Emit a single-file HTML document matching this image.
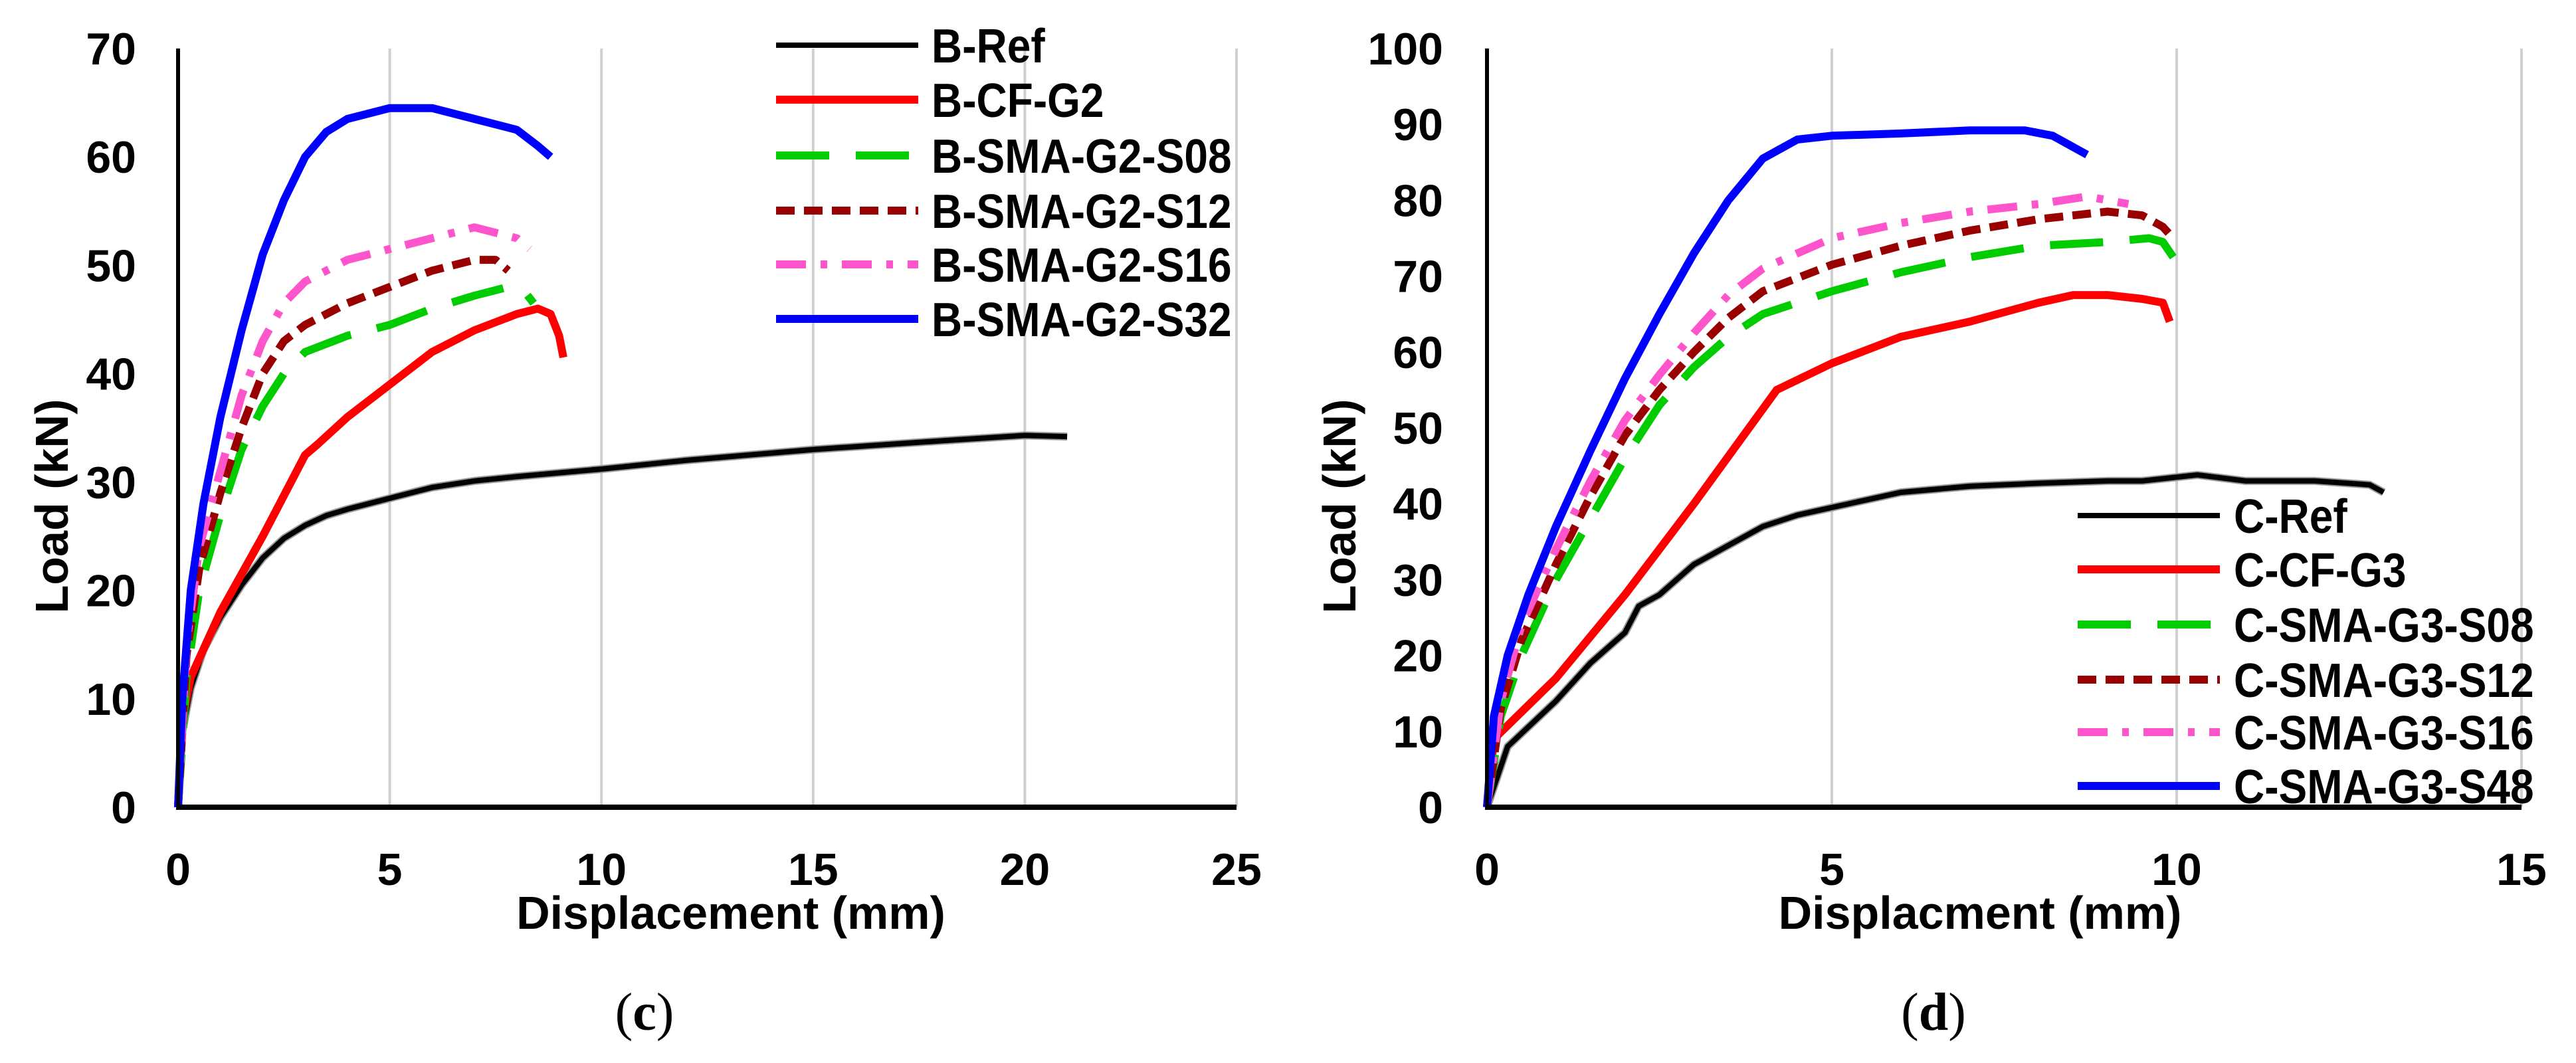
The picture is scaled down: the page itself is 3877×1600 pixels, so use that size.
<!DOCTYPE html>
<html><head><meta charset="utf-8"><style>
html,body{margin:0;padding:0;background:#fff;}
svg{display:block;font-family:"Liberation Sans",sans-serif;}
</style></head><body>
<svg id="chart" width="3877" height="1600" viewBox="0 0 3877 1600" xmlns="http://www.w3.org/2000/svg"></svg>
<script>
// ---- Data (panel c) ----
const cSeriesNames = ["B-Ref","B-CF-G2","B-SMA-G2-S08","B-SMA-G2-S12","B-SMA-G2-S16","B-SMA-G2-S32"];
const cRefX = [0,0.1,0.3,0.6,1,1.5,2,2.5,3,3.5,4,5,6,7,8,10,12,15,18,20,21];
const cRefY = [0,7,11,14.5,17.5,20.5,23,24.8,26,26.9,27.5,28.5,29.5,30.1,30.5,31.2,32,33,33.8,34.3,34.2];
const cCfX = [0,0.1,0.3,1,2,3,3.3,4,5,6,7,8,8.5,8.8,9,9.1];
const cCfY = [0,8,12,18,25,32.5,33.5,36,39,42,44,45.5,46,45.5,43.5,41.5];
const cS08X = [0,0.2,0.5,1,1.5,2,2.5,3,4,5,6,7,7.8,8.2,8.4];
const cS08Y = [0,12,20,27,33,37,40,42,43.5,44.5,46,47.2,48,47.5,46.5];
const cS12X = [0,0.2,0.5,1,1.5,2,2.5,3,4,5,6,7,7.5,7.8];
const cS12Y = [0,14,22,29,35,40,43,44.5,46.5,48,49.5,50.5,50.5,49.5];
const cS16X = [0,0.2,0.5,1,1.5,2,2.5,3,4,5,6,7,7.5,8,8.3];
const cS16Y = [0,15,24,31,38,43,46.5,48.5,50.5,51.5,52.5,53.5,53,52.5,51.5];
const cS32X = [0,0.1,0.3,0.6,1,1.5,2,2.5,3,3.5,4,5,6,7,7.5,8,8.5,8.8];
const cS32Y = [0,10,20,28,36,44,51,56,60,62.3,63.5,64.5,64.5,63.5,63,62.5,61,60];
const cXTicks = [0,5,10,15,20,25];
const cYTicks = [0,10,20,30,40,50,60,70];
// ---- Data (panel d) ----
const dSeriesNames = ["C-Ref","C-CF-G3","C-SMA-G3-S08","C-SMA-G3-S12","C-SMA-G3-S16","C-SMA-G3-S48"];
const dRefX = [0,0.3,1,1.5,2,2.2,2.5,3,3.5,4,4.5,5,6,7,8,9,9.5,10.3,11,12,12.8,13];
const dRefY = [0,8,14,19,23,26.5,28,32,34.5,37,38.5,39.5,41.5,42.3,42.7,43,43,43.8,43,43,42.5,41.5];
const dCfX = [0,0.1,1,2,3,4.2,5,6,7,8,8.5,9,9.5,9.8,9.9];
const dCfY = [0,9,17,28,40,55,58.5,62,64,66.5,67.5,67.5,67,66.5,64];
const dS08X = [0,0.2,0.5,1,1.5,2,2.5,3,3.5,4,5,6,7,8,9,9.6,9.8,9.95];
const dS08Y = [0,12,20,30,38,46,53,58,62,65,68,70.5,72.5,74,74.5,75,74.5,72.5];
const dS12X = [0,0.2,0.5,1,1.5,2,2.5,3,3.5,4,5,6,7,8,9,9.5,9.8,9.9];
const dS12Y = [0,13,22,32,41,49,55,60,64.5,68,71.5,74,76,77.5,78.5,78,76.5,75.5];
const dS16X = [0,0.2,0.5,1,1.5,2,2.5,3,3.5,4,5,6,7,8,8.7,9,9.3];
const dS16Y = [0,14,24,34,43,51,57,62.5,67.5,71,75,77,78.5,79.5,80.5,80,79.5];
const dS48X = [0,0.1,0.3,0.6,1,1.5,2,2.5,3,3.5,4,4.5,5,6,7,7.8,8.2,8.7];
const dS48Y = [0,12,20,28,37,47,56.5,65,73,80,85.5,88,88.5,88.8,89.2,89.2,88.5,86];
const dXTicks = [0,5,10,15];
const dYTicks = [0,10,20,30,40,50,60,70,80,90,100];

const NS = "http://www.w3.org/2000/svg";
const svg = document.getElementById('chart');
function mk(tag, attrs, parent){const e=document.createElementNS(NS,tag);for(const k in attrs)e.setAttribute(k,attrs[k]);(parent||svg).appendChild(e);return e;}

const styles = [
  {stroke:"#000",w:8,dash:""},
  {stroke:"#ff0000",w:12,dash:""},
  {stroke:"#00cc00",w:12,dash:"80 40"},
  {stroke:"#990000",w:12,dash:"28 14"},
  {stroke:"#ff55cc",w:12,dash:"45 22 10 22"},
  {stroke:"#0000ff",w:12,dash:""}
];

function panel(p){
  const g = mk('g',{});
  
  
  const sx = v => p.x0 + v/p.xmax*(p.x1-p.x0);
  const sy = v => p.y0 - v/p.ymax*(p.y0-p.y1);
  p.xt.forEach(t=>{ if(t===0) return;
    const l=mk('line',{x1:sx(t),x2:sx(t),y1:p.y1,y2:p.y0,stroke:"#d0d0d0","stroke-width":4},g);
    
    
  });
  p.xt.forEach(t=>{
    const tx=mk('text',{x:sx(t),y:1332,"text-anchor":"middle","font-size":68,"font-weight":"bold",fill:"#000"},g);
    tx.textContent=t;
    
    
  });
  p.yt.forEach(t=>{
    const tx=mk('text',{x:p.labR,y:sy(t)+24,"text-anchor":"end","font-size":68,"font-weight":"bold",fill:"#000"},g);
    tx.textContent=t;
    
    
  });
  p.series.forEach((s,i)=>{
    const st=styles[i];
    const pts=s.x.map((v,j)=>sx(v).toFixed(1)+','+sy(s.y[j]).toFixed(1)).join(' ');
    if(i===0){
      const sh=mk('polyline',{points:pts,fill:"none",stroke:"#999","stroke-width":12,"stroke-linejoin":"round"},g);
      
      
    }
    const pl=mk('polyline',{points:pts,fill:"none",stroke:st.stroke,"stroke-width":st.w,"stroke-linejoin":"round","stroke-dasharray":st.dash},g);
    
    
  });
  const ya=mk('line',{x1:p.x0,x2:p.x0,y1:p.y1,y2:p.y0+3,stroke:"#000","stroke-width":6},g);
  
  
  const xa=mk('line',{x1:p.x0-3,x2:p.x1,y1:p.y0,y2:p.y0,stroke:"#000","stroke-width":8},g);
  
  
  const xt=mk('text',{x:p.xTitleX,y:1398,"text-anchor":"middle","font-size":70,"font-weight":"bold",fill:"#000"},g);
  xt.textContent=p.xTitle;
  
  
  const yt=mk('text',{x:0,y:0,"text-anchor":"middle","font-size":70,"font-weight":"bold",fill:"#000",transform:`translate(${p.yTitleX},762) rotate(-90)`},g);
  yt.textContent="Load (kN)";
  
  
  const cap=mk('text',{x:p.capX,y:1550,"text-anchor":"middle","font-size":80,"font-family":"Liberation Serif, serif",fill:"#000"},g);
  cap.innerHTML='(<tspan font-weight="bold">'+p.cap+'</tspan>)';
  
  
  p.series.forEach((s,i)=>{
    const st=styles[i]; const y=p.legY[i];
    const ll=mk('line',{x1:p.legX0,x2:p.legX1,y1:y,y2:y,stroke:st.stroke,"stroke-width":i===0?8:12,"stroke-dasharray":st.dash},g);
    
    
    const lt=mk('text',{x:p.legTX,y:y+26,"font-size":72,"font-weight":"bold",fill:"#000"},g);
    lt.textContent=s.name;
    
    
    const w=lt.getComputedTextLength();
    lt.setAttribute('textLength',(w*64/72).toFixed(1));
    lt.setAttribute('lengthAdjust','spacingAndGlyphs');
  });
}

panel({id:'c',x0:268,x1:1861,y0:1215,y1:73,xmax:25,ymax:70,xt:cXTicks,yt:cYTicks,labR:205,
  xTitle:"Displacement (mm)",xTitleX:1100,yTitleX:102,capX:970,cap:"c",
  legX0:1168,legX1:1382,legTX:1402,legY:[68,150,234,317,398,480],
  series:[{name:cSeriesNames[0],x:cRefX,y:cRefY},{name:cSeriesNames[1],x:cCfX,y:cCfY},{name:cSeriesNames[2],x:cS08X,y:cS08Y},
          {name:cSeriesNames[3],x:cS12X,y:cS12Y},{name:cSeriesNames[4],x:cS16X,y:cS16Y},{name:cSeriesNames[5],x:cS32X,y:cS32Y}]});
panel({id:'d',x0:2238,x1:3795,y0:1215,y1:73,xmax:15,ymax:100,xt:dXTicks,yt:dYTicks,labR:2172,
  xTitle:"Displacment (mm)",xTitleX:2980,yTitleX:2040,capX:2910,cap:"d",
  legX0:3127,legX1:3341,legTX:3362,legY:[776,857,940,1023,1102,1183],
  series:[{name:dSeriesNames[0],x:dRefX,y:dRefY},{name:dSeriesNames[1],x:dCfX,y:dCfY},{name:dSeriesNames[2],x:dS08X,y:dS08Y},
          {name:dSeriesNames[3],x:dS12X,y:dS12Y},{name:dSeriesNames[4],x:dS16X,y:dS16Y},{name:dSeriesNames[5],x:dS48X,y:dS48Y}]});
</script>
</body></html>
